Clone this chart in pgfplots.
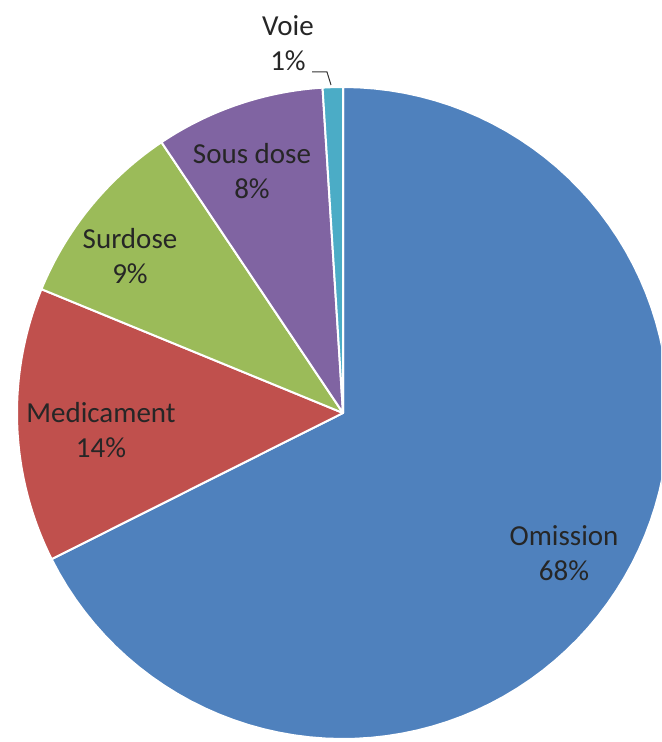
\documentclass[border=0pt]{standalone}
\usepackage{fontspec}
\setmainfont{Carlito}
\usepackage{pgfplots}
\pgfplotsset{compat=1.18}
\definecolor{cOm}{HTML}{4F81BD}
\definecolor{cMe}{HTML}{C0504D}
\definecolor{cSu}{HTML}{9BBB59}
\definecolor{cSo}{HTML}{8064A2}
\definecolor{cVo}{HTML}{4BACC6}
% slice shares (percent), clockwise from 12 o'clock
\def\vOm{67.6}
\def\vMe{13.6}
\def\vSu{9.4}
\def\vSo{8.4}
\def\vVo{1.0}
\def\cx{343}\def\cy{329}\def\rr{326}
\newcommand\slice[3]{% start cum%, end cum%, color
  \pgfmathsetmacro\aS{90-3.6*#2}%
  \pgfmathsetmacro\aE{90-3.6*#1}%
  \addplot[fill=#3, draw=white, line width=1pt, line join=round, domain=\aS:\aE, samples=90, variable=\t]
    ({\cx+\rr*cos(\t)},{\cy+\rr*sin(\t)}) -- (axis cs:\cx,\cy) -- cycle;
}
\begin{document}
\begin{tikzpicture}
\begin{axis}[
  scale only axis, width=330.5pt, height=371pt,
  xmin=0, xmax=661, ymin=0, ymax=742,
  hide axis, clip=true,
  font=\fontsize{14.5}{17.5}\selectfont,
]
\pgfmathsetmacro\cA{\vOm}
\pgfmathsetmacro\cB{\cA+\vMe}
\pgfmathsetmacro\cC{\cB+\vSu}
\pgfmathsetmacro\cD{\cC+\vSo}
\pgfmathsetmacro\cE{\cD+\vVo}
\slice{0}{\cA}{cOm}
\slice{\cA}{\cB}{cMe}
\slice{\cB}{\cC}{cSu}
\slice{\cC}{\cD}{cSo}
\slice{\cD}{\cE}{cVo}
\addplot[black!80, line width=0.5pt] coordinates {(312,670) (327,670) (331,657)};
\node[align=center, text=black!85] at (axis cs:564,189) {Omission\\68\%};
\node[align=center, text=black!85] at (axis cs:101,312) {Medicament\\14\%};
\node[align=center, text=black!85] at (axis cs:130,486) {Surdose\\9\%};
\node[align=center, text=black!85] at (axis cs:252,571) {Sous dose\\8\%};
\node[align=center, text=black!85] at (axis cs:288,699) {Voie\\1\%};
\end{axis}
\pgfresetboundingbox
\useasboundingbox (current axis.south west) rectangle (current axis.north east);
\end{tikzpicture}
\end{document}
